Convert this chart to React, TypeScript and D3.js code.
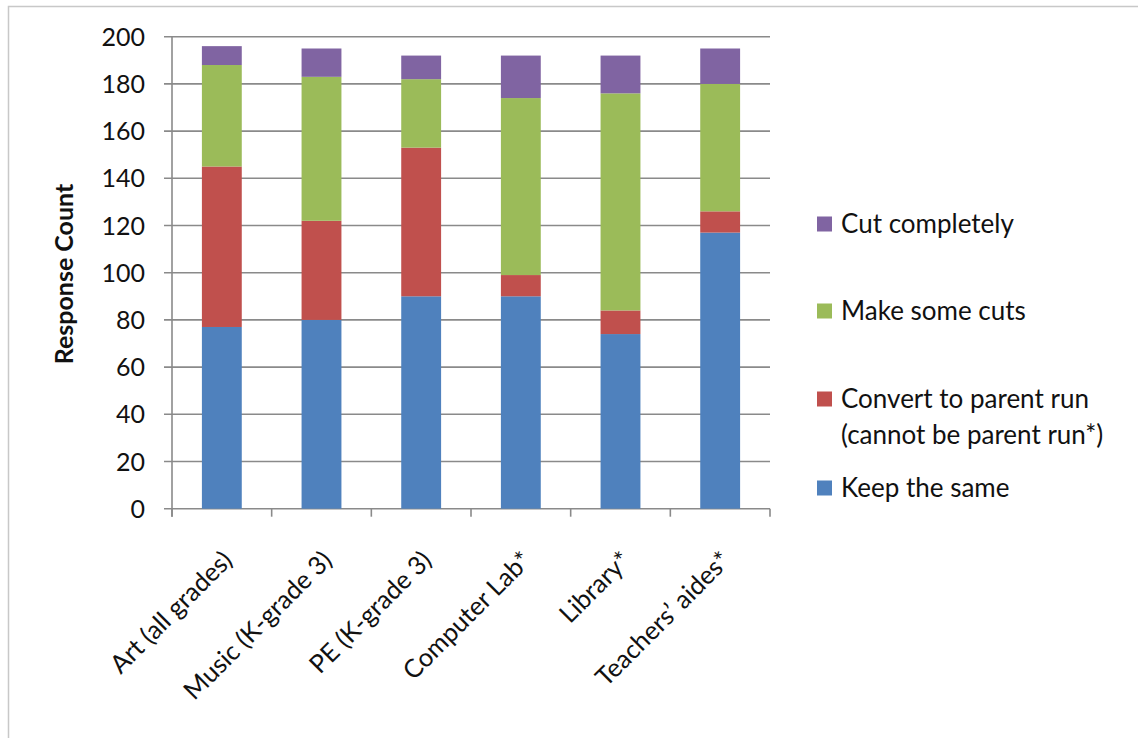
import React from "react";
import * as d3 from "d3";

const categories = ["Art (all grades)", "Music (K-grade 3)", "PE (K-grade 3)", "Computer Lab*", "Library*", "Teachers\u2019 aides*"];
const keepSame = [77, 80, 90, 90, 74, 117];
const convertParent = [68, 42, 63, 9, 10, 9];
const makeCuts = [43, 61, 29, 75, 92, 54];
const cutCompletely = [8, 12, 10, 18, 16, 15];
const yTicks = [0, 20, 40, 60, 80, 100, 120, 140, 160, 180, 200];

const seriesNames = ["Keep the same", "Convert to parent run", "Make some cuts", "Cut completely"];
const seriesValues = [keepSame, convertParent, makeCuts, cutCompletely];
const colors = ["#4F81BD", "#C0504D", "#9BBB59", "#8064A2"];

const W = 1138, H = 738;
const FONT = "Lato, 'Open Sans', sans-serif";

export default function App() {
  const x = d3.scaleBand<string>().domain(categories).range([172, 770]).paddingInner(0.6).paddingOuter(0.3);
  const y = d3.scaleLinear().domain([0, 200]).range([508.7, 36.7]);
  const rows = categories.map((c, i) => {
    const o: any = { cat: c };
    seriesNames.forEach((s, j) => (o[s] = seriesValues[j][i]));
    return o;
  });
  const stacked = d3.stack<any>().keys(seriesNames)(rows);
  const step = x.step();
  const x0 = 172, x1 = 770;
  const boundaries = d3.range(categories.length + 1).map((i) => x0 + i * step);

  const legendItems = [
    { i: 3, lines: ["Cut completely"], y: 224 },
    { i: 2, lines: ["Make some  cuts"], y: 311 },
    { i: 1, lines: ["Convert to parent run", "(cannot be parent run*)"], y: 399 },
    { i: 0, lines: ["Keep the same"], y: 488 },
  ];

  return (
    <div style={{ position: "fixed", left: 0, top: 0 }}>
      <svg width={W} height={H} style={{ display: "block", background: "#fff" }}>
        <rect x={8.5} y={6.5} width={W} height={H} fill="#fff" stroke="#c8c8c8" strokeWidth={1.5} />
        {yTicks.map((t) => (
          <g key={t}>
            <line x1={x0 - 8} x2={x1} y1={y(t)} y2={y(t)} stroke="#8a8a8a" strokeWidth={1.6} />
            <text x={145} y={y(t)} dy="0.36em" textAnchor="end" fontFamily={FONT} fontSize={25} fill="#111">{t}</text>
          </g>
        ))}
        <line x1={x0} x2={x0} y1={y(200)} y2={y(0) + 8} stroke="#8a8a8a" strokeWidth={1.6} />
        {boundaries.map((b, i) => (
          <line key={i} x1={b} x2={b} y1={y(0)} y2={y(0) + 8} stroke="#8a8a8a" strokeWidth={1.6} />
        ))}
        {stacked.map((s, j) => (
          <g key={j} fill={colors[j]}>
            {s.map((d: any, i: number) => (
              <rect key={i} x={x(categories[i])} width={x.bandwidth()} y={y(d[1])} height={y(d[0]) - y(d[1])} />
            ))}
          </g>
        ))}
        {categories.map((c) => {
          const cx = (x(c) as number) + x.bandwidth() / 2 + 12;
          return (
            <text key={c} transform={`translate(${cx},${562}) rotate(-45)`} textAnchor="end"
              fontFamily={FONT} fontSize={25.5} fill="#111">{c}</text>
          );
        })}
        <text transform={`translate(64,274) rotate(-90)`} textAnchor="middle" dy="0.35em" fontFamily={FONT}
          fontSize={25} fontWeight="bold" fill="#111">Response Count</text>
        {legendItems.map((it) => (
          <g key={it.i}>
            <rect x={817} y={it.y - 7.5} width={15} height={15} fill={colors[it.i]} />
            {it.lines.map((l, k) => (
              <text key={k} x={841} y={it.y + k * 36} dy="0.36em" fontFamily={FONT} fontSize={26} fill="#111">{l}</text>
            ))}
          </g>
        ))}
      </svg>
    </div>
  );
}
